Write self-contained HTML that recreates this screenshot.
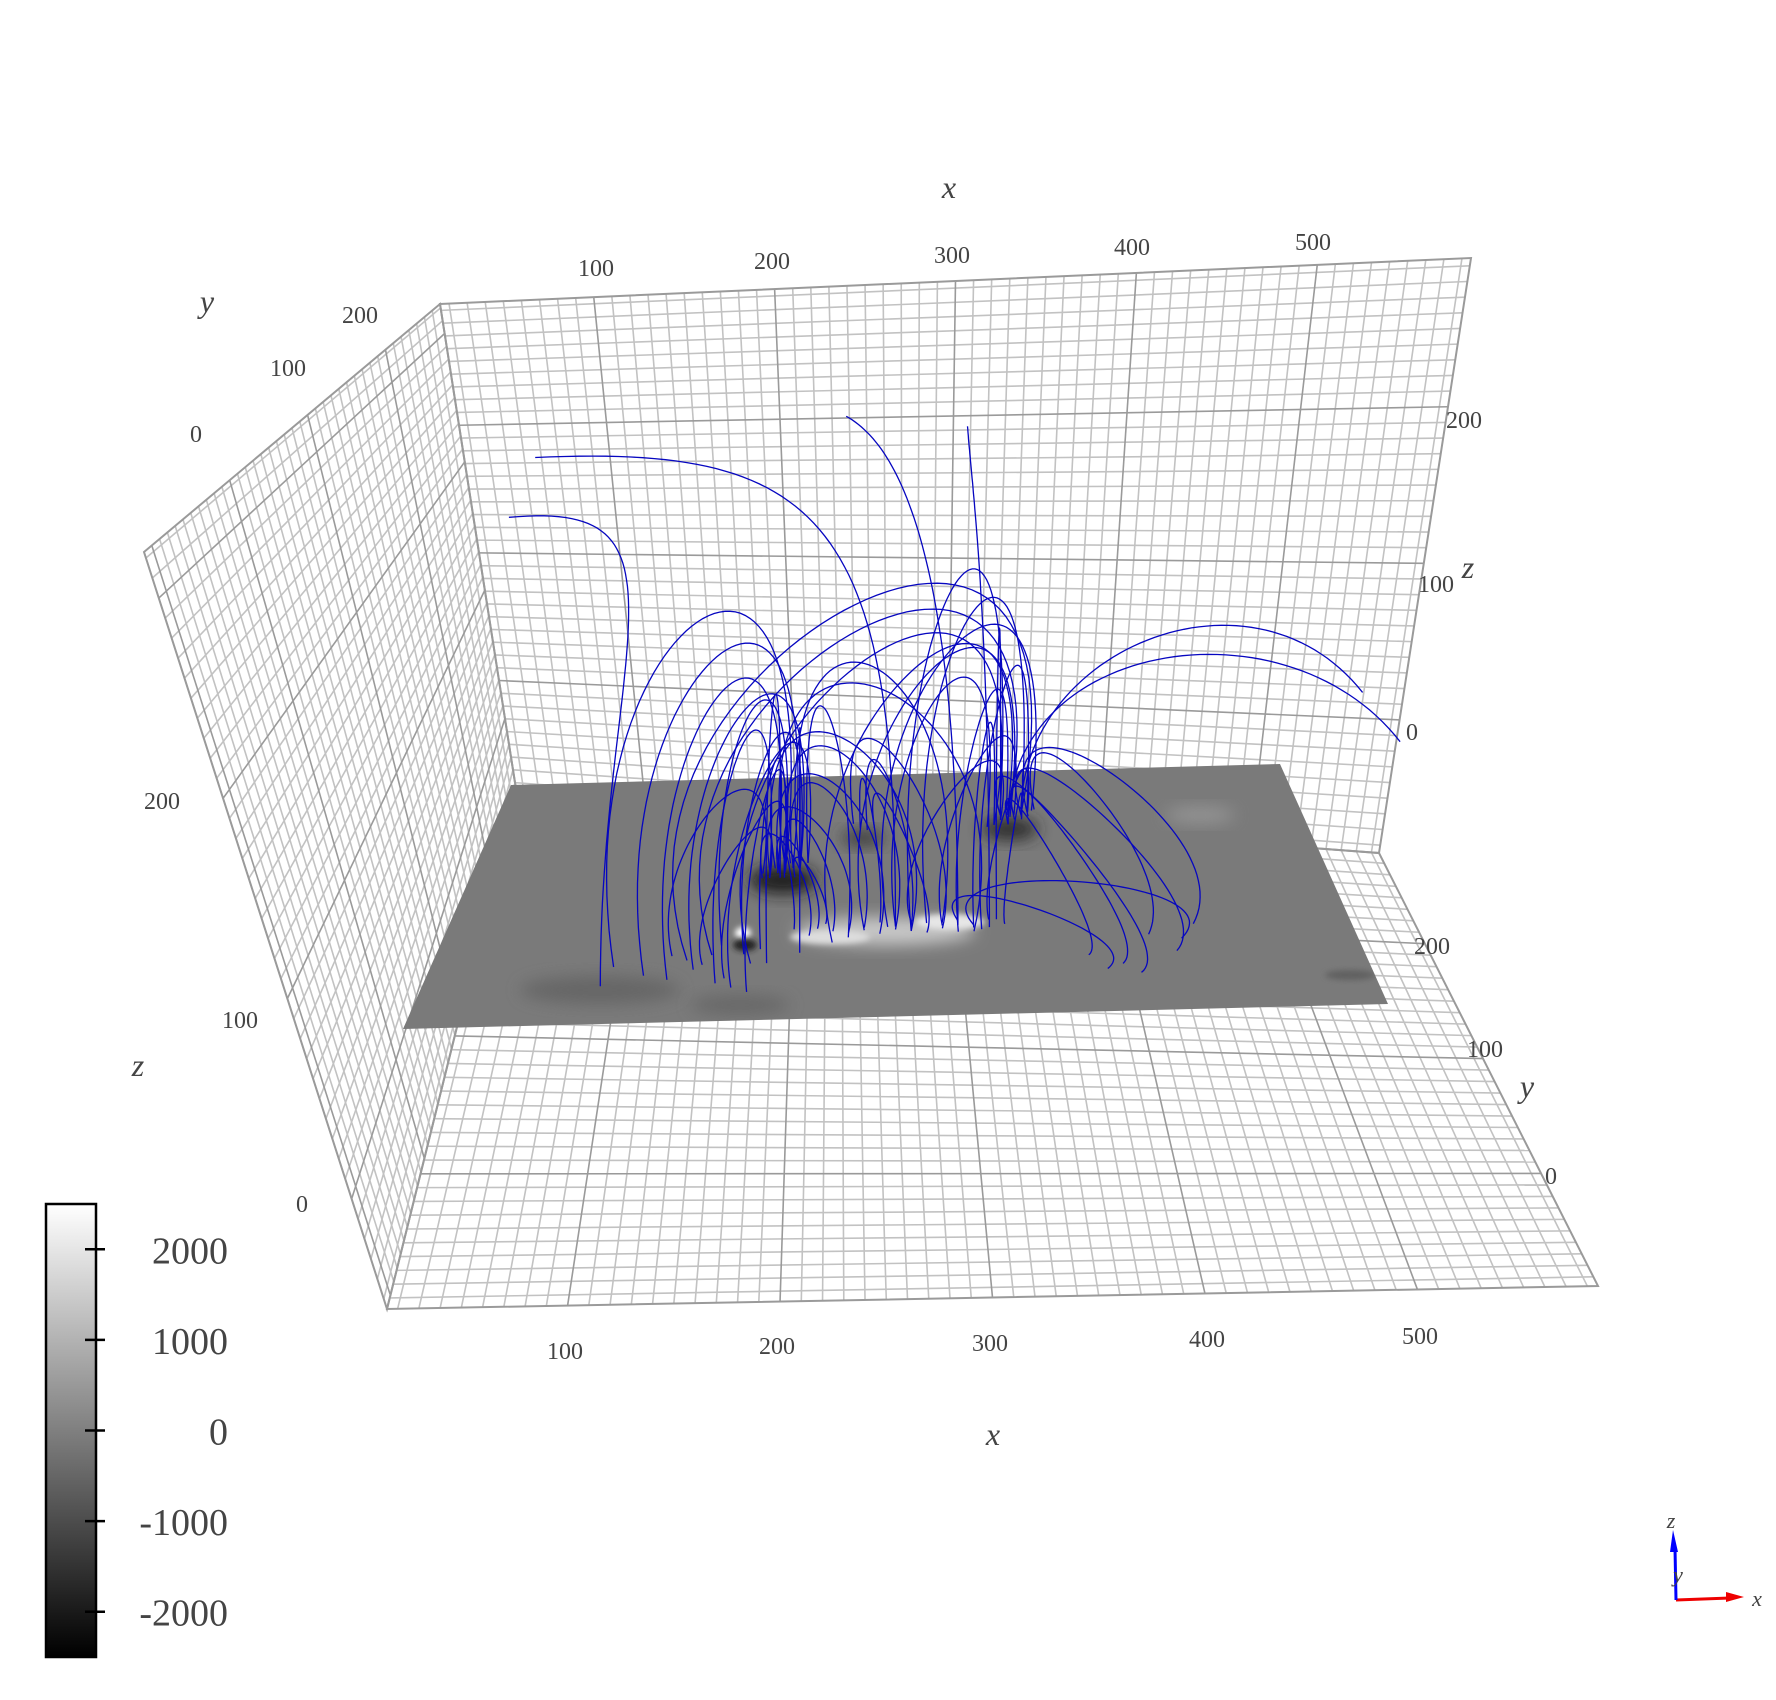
<!DOCTYPE html>
<html><head><meta charset="utf-8"><style>
html,body{margin:0;padding:0;background:#fff;}
svg{display:block;}
text{font-family:"Liberation Serif",serif;fill:#444;}
</style></head>
<body>
<svg id="chart" width="1776" height="1700" viewBox="0 0 1776 1700" xmlns="http://www.w3.org/2000/svg">
<defs>
<linearGradient id="cbgrad" x1="0" y1="0" x2="0" y2="1">
<stop offset="0" stop-color="#fff"/><stop offset="1" stop-color="#000"/>
</linearGradient>
<filter id="blur8" x="-50%" y="-50%" width="200%" height="200%"><feGaussianBlur stdDeviation="8"/></filter>
<filter id="blur3" x="-50%" y="-50%" width="200%" height="200%"><feGaussianBlur stdDeviation="3"/></filter>
<clipPath id="magclip"><polygon points="511,785 1280,764 1388,1004 403,1029"/></clipPath>
</defs>
<g id="grids"></g>
<g id="magnetogram">
<polygon points="511,785 1280,764 1388,1004 403,1029" fill="#7a7a7a"/>
<g clip-path="url(#magclip)">
<ellipse cx="600" cy="990" rx="80" ry="14" fill="#666" filter="url(#blur8)"/>
<ellipse cx="740" cy="1005" rx="50" ry="10" fill="#686868" filter="url(#blur8)"/>
<ellipse cx="885" cy="931" rx="90" ry="14" fill="#c8c8c8" filter="url(#blur8)"/>
<ellipse cx="950" cy="922" rx="35" ry="8" fill="#e6e6e6" filter="url(#blur3)"/>
<ellipse cx="830" cy="937" rx="40" ry="7" fill="#dddddd" filter="url(#blur3)"/>
<ellipse cx="743" cy="933" rx="8" ry="6" fill="#fff" filter="url(#blur3)"/>
<ellipse cx="783" cy="880" rx="34" ry="14" fill="#1a1a1a" filter="url(#blur8)"/>
<ellipse cx="1010" cy="829" rx="28" ry="11" fill="#2a2a2a" filter="url(#blur8)"/>
<ellipse cx="863" cy="838" rx="22" ry="8" fill="#3a3a3a" filter="url(#blur8)"/>
<ellipse cx="745" cy="945" rx="12" ry="6" fill="#222" filter="url(#blur3)"/>
<ellipse cx="1200" cy="815" rx="35" ry="8" fill="#959595" filter="url(#blur8)"/>
<ellipse cx="1350" cy="975" rx="25" ry="5" fill="#606060" filter="url(#blur3)"/>
</g>
</g>
<g id="fieldlines"></g>
<g id="labels">
<text x="596" y="276" font-size="24" text-anchor="middle">100</text>
<text x="772" y="269" font-size="24" text-anchor="middle">200</text>
<text x="952" y="263" font-size="24" text-anchor="middle">300</text>
<text x="1132" y="255" font-size="24" text-anchor="middle">400</text>
<text x="1313" y="250" font-size="24" text-anchor="middle">500</text>
<text x="949" y="198" font-size="32" font-style="italic" text-anchor="middle">x</text>
<text x="565" y="1359" font-size="24" text-anchor="middle">100</text>
<text x="777" y="1354" font-size="24" text-anchor="middle">200</text>
<text x="990" y="1351" font-size="24" text-anchor="middle">300</text>
<text x="1207" y="1347" font-size="24" text-anchor="middle">400</text>
<text x="1420" y="1344" font-size="24" text-anchor="middle">500</text>
<text x="993" y="1445" font-size="32" font-style="italic" text-anchor="middle">x</text>
<text x="196" y="442" font-size="24" text-anchor="middle">0</text>
<text x="288" y="376" font-size="24" text-anchor="middle">100</text>
<text x="360" y="323" font-size="24" text-anchor="middle">200</text>
<text x="207" y="312" font-size="32" font-style="italic" text-anchor="middle">y</text>
<text x="162" y="809" font-size="24" text-anchor="middle">200</text>
<text x="240" y="1028" font-size="24" text-anchor="middle">100</text>
<text x="302" y="1212" font-size="24" text-anchor="middle">0</text>
<text x="138" y="1076" font-size="32" font-style="italic" text-anchor="middle">z</text>
<text x="1464" y="428" font-size="24" text-anchor="middle">200</text>
<text x="1436" y="592" font-size="24" text-anchor="middle">100</text>
<text x="1412" y="740" font-size="24" text-anchor="middle">0</text>
<text x="1468" y="578" font-size="32" font-style="italic" text-anchor="middle">z</text>
<text x="1432" y="954" font-size="24" text-anchor="middle">200</text>
<text x="1485" y="1057" font-size="24" text-anchor="middle">100</text>
<text x="1551" y="1184" font-size="24" text-anchor="middle">0</text>
<text x="1527" y="1097" font-size="32" font-style="italic" text-anchor="middle">y</text>
</g>
<g id="colorbar">
<rect x="46" y="1204" width="50" height="453" fill="url(#cbgrad)" stroke="#000" stroke-width="2.5"/>
</g>
<g id="triad">
<line x1="1676" y1="1600" x2="1730" y2="1598" stroke="#e00" stroke-width="3"/>
<polygon points="1726,1592 1744,1597 1726,1602" fill="#e00"/>
<line x1="1676" y1="1600" x2="1675" y2="1548" stroke="#00f" stroke-width="3"/>
<polygon points="1670,1552 1673,1530 1678,1552" fill="#00f"/>
<text x="1671" y="1528" font-size="22" font-style="italic" text-anchor="middle">z</text>
<text x="1678" y="1582" font-size="22" font-style="italic" text-anchor="middle">y</text>
<text x="1757" y="1606" font-size="22" font-style="italic" text-anchor="middle">x</text>
</g>
</svg>
<script>
// colorbar data
const cbTicks = [2000, 1000, 0, -1000, -2000];
const cbMin = -2500, cbMax = 2500;
// field-line data (x1,y1 footpoint; x2,y2,z2 endpoint; h apex height; c2x,c2z: approach control for open lines)
const lineX1 = [240,250,260,270,280,290,245,300,235,225, 280,300,320,310, 300,320,340,350,330,360,290,270, 115,135,150,165,180,190,200,175,160,200, 310,300,285, 330,350,290,110, 380,370, 380,375,390,370,385,365, 330,340, 170,185,150, 180,230,210, 205,195,260,340,320,250,345,355];
const lineY1 = [95,92,90,95,88,92,100,90,88,95, 100,95,92,88, 100,95,92,100,88,95,96,92, 60,50,45,55,40,35,30,70,65,60, 98,90,95, 95,92,95,40, 210,200, 210,205,215,200,208,212, 100,95, 60,45,70, 80,70,60, 75,70,85,88,98,80,90,100];
const lineX2 = [210,215,205,220,212,218,222,208,200,215, 265,270,260,275, 365,375,360,385,370,380,355,372, 215,220,210,225,205,230,215,370,380,360, 380,365,388, 255,342,20,5, 640,660, 465,430,450,410,480,440, 420,470, 205,215,200, 215,225,212, 215,225,230,215,225,370,385,365];
const lineY2 = [158,160,155,162,152,165,150,160,150,150, 200,198,205,200, 205,210,200,212,215,205,198,208, 158,160,155,162,150,165,160,205,210,200, 208,210,214, 200,215,250,235, 250,230, 62,50,80,60,90,40, 45,75, 150,158,155, 160,158,150, 155,160,165,160,158,210,215,205];
const lineZ2 = [0,0,0,0,0,0,0,0,0,0, 0,0,0,0, 0,0,0,0,0,0,0,0, 0,0,0,0,0,0,0,0,0,0, 0,0,0, 330,308,266,230, 60,35, 0,0,0,0,0,0, 0,0, 0,0,0, 0,0,0, 0,0,0,0,0,0,0,0];
const lineH = [40,55,70,85,100,115,25,130,50,30, 60,80,95,45, 70,90,110,55,130,35,150,170, 240,215,190,170,150,130,110,210,230,195, 210,235,185, 200,190,230,200, 100,110, 60,45,70,35,80,50, 30,40, 60,80,90, 160,140,175, 115,135,150,170,185,175,150,185];
const lineC2X = [0,0,0,0,0,0,0,0,0,0, 0,0,0,0, 0,0,0,0,0,0,0,0, 0,0,0,0,0,0,0,0,0,0, 0,0,0, 300,345,250,150, 560,580, 0,0,0,0,0,0, 0,0, 0,0,0, 0,0,0, 0,0,0,0,0,0,0,0];
const lineC2Z = [0,0,0,0,0,0,0,0,0,0, 0,0,0,0, 0,0,0,0,0,0,0,0, 0,0,0,0,0,0,0,0,0,0, 0,0,0, 300,260,270,240, 170,150, 0,0,0,0,0,0, 0,0, 0,0,0, 0,0,0, 0,0,0,0,0,0,0,0];

const NS = 'http://www.w3.org/2000/svg';
const svg = document.getElementById('chart');
function mk(tag, attrs, parent){const e=document.createElementNS(NS,tag);for(const k in attrs)e.setAttribute(k,attrs[k]);parent.appendChild(e);return e;}
function bil(c,s,t){const a=c[0],b=c[1],d=c[2],e=c[3];
 return [a[0]*(1-s)*(1-t)+b[0]*s*(1-t)+d[0]*s*t+e[0]*(1-s)*t, a[1]*(1-s)*(1-t)+b[1]*s*(1-t)+d[1]*s*t+e[1]*(1-s)*t];}

// grid panels
const panels = [
 {name:'back-wall-grid', c:[[440,304],[1471,258],[1379,853],[516,789]], u:[15,585], v:[295,-85]},
 {name:'left-wall-grid', c:[[144,552],[440,304],[516,789],[387,1309]], u:[-110,270], v:[323,-55]},
 {name:'floor-grid', c:[[516,789],[1379,853],[1598,1286],[387,1309]], u:[15,585], v:[279,-98]}
];
const gridG = document.getElementById('grids');
panels.forEach(p=>{
 const g = mk('g',{},gridG);
 
 
 const lines = [];
 function vals(dom){const lo=Math.min(dom[0],dom[1]),hi=Math.max(dom[0],dom[1]);const r=[];for(let k=Math.ceil(lo/10);k*10<=hi;k++)r.push(k*10);return r;}
 vals(p.u).forEach(val=>{const s=(val-p.u[0])/(p.u[1]-p.u[0]);const A=bil(p.c,s,0),B=bil(p.c,s,1);lines.push([A,B,val%100===0]);});
 vals(p.v).forEach(val=>{const t=(val-p.v[0])/(p.v[1]-p.v[0]);const A=bil(p.c,0,t),B=bil(p.c,1,t);lines.push([A,B,val%100===0]);});
 lines.filter(l=>!l[2]).forEach(l=>mk('line',{x1:l[0][0],y1:l[0][1],x2:l[1][0],y2:l[1][1],stroke:'#c2c2c2','stroke-width':1.6},g));
 lines.filter(l=>l[2]).forEach(l=>mk('line',{x1:l[0][0],y1:l[0][1],x2:l[1][0],y2:l[1][1],stroke:'#9a9a9a','stroke-width':1.6},g));
 mk('polygon',{points:p.c.map(q=>q.join(',')).join(' '),fill:'none',stroke:'#9a9a9a','stroke-width':2},g);
});

// projection of data coords to screen
const magC = [[403,1029],[1388,1004],[1280,764],[511,785]];
function proj(x,y,z){const p=bil(magC,x/580,y/256);return [p[0],p[1]-z*1.25];}

const flG = document.getElementById('fieldlines');
for(let i=0;i<lineX1.length;i++){
 const c = 4*lineH[i]/3;
 const x1=lineX1[i],y1=lineY1[i],x2=lineX2[i],y2=lineY2[i],z2=lineZ2[i];
 const dx=x1-x2, dy=y1-y2;
 let P0,P1,P2,P3;
 if(z2===0){
  P0=[x1,y1,0];P1=[x1+dx*0.3,y1+dy*0.3,c];P2=[x2-dx*0.3,y2-dy*0.3,c];P3=[x2,y2,0];
 } else {
  P0=[x1,y1,0];P1=[x1,y1,lineH[i]*1.4];P2=[lineC2X[i],y2,lineC2Z[i]];P3=[x2,y2,z2];
 }
 let d='';
 for(let k=0;k<=60;k++){const t=k/60,a=(1-t)**3,b=3*(1-t)**2*t,cc=3*(1-t)*t*t,e=t**3;
  const q=[0,1,2].map(j=>a*P0[j]+b*P1[j]+cc*P2[j]+e*P3[j]);
  const s=proj(q[0],q[1],q[2]);d+=(k?'L':'M')+s[0].toFixed(1)+','+s[1].toFixed(1);}
 const path = mk('path',{d:d,fill:'none',stroke:'#0606c0','stroke-width':1.3},flG);
 
 
}

// colorbar ticks
const cbG = document.getElementById('colorbar');
const cbTop=1204, cbBot=1657;
cbTicks.forEach(v=>{
 const y = cbTop + (cbMax-v)/(cbMax-cbMin)*(cbBot-cbTop);
 mk('line',{x1:85,y1:y,x2:105,y2:y,stroke:'#000','stroke-width':2.5},cbG);
 const t = mk('text',{x:228,y:y+14,'font-size':38,'text-anchor':'end'},cbG);
 t.textContent = String(v);
 
 
});
</script>
</body></html>
